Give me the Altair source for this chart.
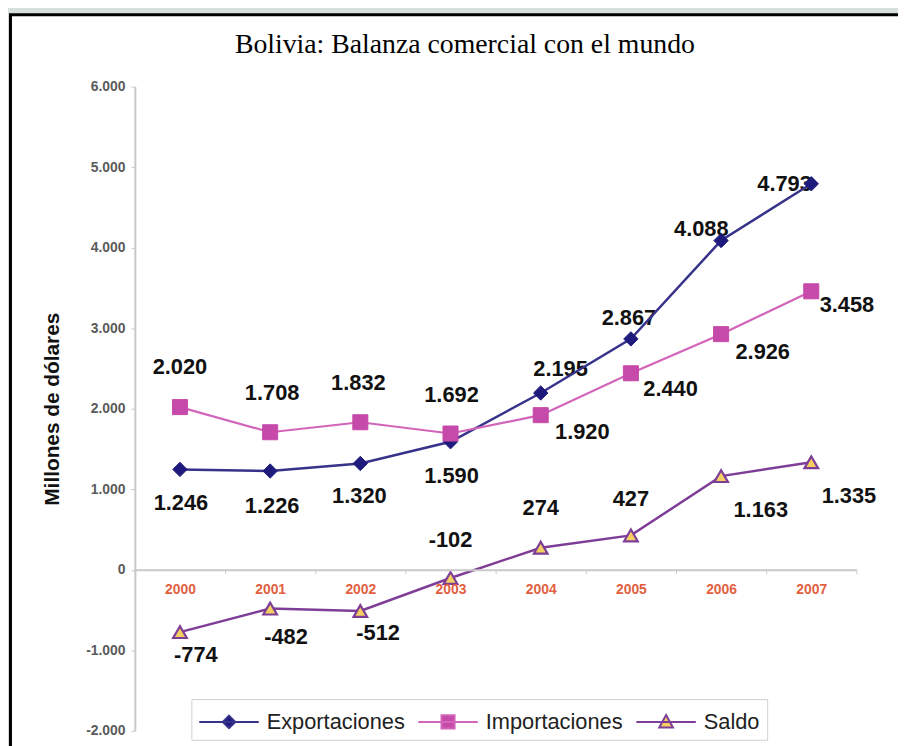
import altair as alt
import pandas as pd

# ---------------- data ----------------
years = ["2000", "2001", "2002", "2003", "2004", "2005", "2006", "2007"]
exportaciones = [1246, 1226, 1320, 1590, 2195, 2867, 4088, 4793]
importaciones = [2020, 1708, 1832, 1692, 1920, 2440, 2926, 3458]
saldo = [-774, -482, -512, -102, 274, 427, 1163, 1335]
series_names = ["Exportaciones", "Importaciones", "Saldo"]
y_ticks = [-2000, -1000, 0, 1000, 2000, 3000, 4000, 5000, 6000]
title_text = "Bolivia: Balanza comercial con el mundo"
y_title = "Millones de dólares"

rows = []
for name, vals in zip(series_names, [exportaciones, importaciones, saldo]):
    for yr, v in zip(years, vals):
        rows.append({"year": yr, "series": name, "value": v,
                     "label": f"{v:,}".replace(",", ".")})
df = pd.DataFrame(rows)

# ---------------- styles ----------------
LINE_COLOR = {"Exportaciones": "#37328a", "Importaciones": "#d264b9", "Saldo": "#7e3e98"}
MARK_FILL = {"Exportaciones": "#1f1b7c", "Importaciones": "#c64aa9", "Saldo": "#f3d061"}
MARK_STROKE = {"Exportaciones": "#1f1b7c", "Importaciones": "#c64aa9", "Saldo": "#7e3e98"}
MARK_SHAPE = {"Exportaciones": "diamond", "Importaciones": "square", "Saldo": "triangle-up"}
MARK_SIZE = {"Exportaciones": 210, "Importaciones": 230, "Saldo": 190}
LINE_WIDTH = {"Exportaciones": 2.5, "Importaciones": 2.2, "Saldo": 2.5}
# legend symbols: line with marker, drawn right of the symbol anchor
LEGEND_PATHS = [
    "M-1,0H3M1,-0.42L1.42,0L1,0.42L0.58,0Z",
    "M-1,0H3M0.56,-0.44H1.44V0.44H0.56Z",
    "M-1,0H3M1,-0.46L1.46,0.38H0.54Z",
]
# label offsets (dx, dy) in pixels, per series and year
LABEL_OFFSETS = {
    "Exportaciones": [(1, 34), (2, 35), (-1, 33), (1, 35), (20, -24), (-2, -21), (-20, -12), (-27, 0)],
    "Importaciones": [(0, -40), (2, -40), (-2, -40), (1, -39), (42, 17), (40, 16), (42, 18), (36, 14)],
    "Saldo": [(16, 23), (16, 29), (18, 22), (0, -38), (0, -40), (0, -37), (40, 34), (38, 34)],
}

W, H = 728, 650
FONT = "Liberation Sans"

x_enc = alt.X(
    "year:N",
    scale=alt.Scale(type="band", domain=years, paddingInner=0, paddingOuter=0),
    axis=alt.Axis(
        orient="bottom", offset=-162.5, title=None, labelAngle=0, zindex=1,
        labelColor="#e2603f", labelFontSize=14, labelFont=FONT, labelFontWeight="bold",
        labelPadding=9,
        domainColor="#c9c9c9", domainWidth=2, tickColor="#c9c9c9", tickSize=4,
        tickBand="extent",
    ),
)
y_enc = alt.Y(
    "value:Q",
    scale=alt.Scale(domain=[-2000, 6000], nice=False, zero=False),
    axis=alt.Axis(
        values=y_ticks, grid=False, title=y_title, zindex=1,
        labelExpr="(datum.value < 0 ? '-' : '') + replace(format(abs(datum.value), ','), ',', '.')",
        labelFontSize=14, labelFont=FONT, labelFontWeight="bold", labelColor="#5a5a5a",
        labelPadding=6,
        domainColor="#c9c9c9", domainWidth=2, tickColor="#c9c9c9", tickSize=4,
        titleFont=FONT, titleFontSize=21, titleFontWeight="bold", titleColor="#111111",
        titleX=-73,
    ),
)

one = alt.Data(values=[{"k": 1}])

frame = alt.Chart(one).mark_rect(fill="white", stroke="black", strokeWidth=3).encode(
    x=alt.value(-125.5), x2=alt.value(820), y=alt.value(-72.5), y2=alt.value(720)
)
title_mark = alt.Chart(one).mark_text(
    text=title_text, font="Liberation Serif", fontSize=28, color="#000000",
    align="center", baseline="middle",
).encode(x=alt.value(333), y=alt.value(-42))

label_layers = []
for name in series_names:
    for yr, (dx, dy) in zip(years, LABEL_OFFSETS[name]):
        label_layers.append(
            alt.Chart(df)
            .transform_filter((alt.datum.series == name) & (alt.datum.year == yr))
            .mark_text(dx=dx, dy=dy, font=FONT, fontSize=22, fontWeight="bold",
                       color="#111111", align="center", baseline="middle")
            .encode(x=x_enc, y=y_enc, text="label:N")
        )

line_layers = [
    alt.Chart(df).transform_filter(alt.datum.series == name)
    .mark_line(color=LINE_COLOR[name], strokeWidth=LINE_WIDTH[name])
    .encode(x=x_enc, y=y_enc)
    for name in series_names
]
point_layers = [
    alt.Chart(df).transform_filter(alt.datum.series == name)
    .mark_point(shape=MARK_SHAPE[name], filled=True, fill=MARK_FILL[name],
                stroke=MARK_STROKE[name], strokeWidth=2.2 if name == "Saldo" else 1,
                size=MARK_SIZE[name], opacity=1)
    .encode(x=x_enc, y=y_enc)
    for name in series_names
]

leg = alt.Legend(
    orient="none", legendX=57, legendY=618, direction="horizontal", title=None,
    strokeColor="#cfcfcf", fillColor="white", padding=7,
    labelFont=FONT, labelFontSize=22, labelColor="#222222", labelOffset=37,
    columnPadding=9, symbolSize=900, symbolStrokeWidth=2, labelLimit=300,
)
legend_layer = alt.Chart(df).transform_filter("false").mark_point(filled=True, opacity=1).encode(
    x=x_enc, y=y_enc,
    shape=alt.Shape("series:N", scale=alt.Scale(domain=series_names, range=LEGEND_PATHS), legend=leg),
    fill=alt.Fill("series:N", scale=alt.Scale(domain=series_names,
                  range=[MARK_FILL[n] for n in series_names]), legend=leg),
    stroke=alt.Stroke("series:N", scale=alt.Scale(domain=series_names,
                      range=[LINE_COLOR[n] for n in series_names]), legend=leg),
)

chart = (
    alt.layer(frame, title_mark, *label_layers, *line_layers, *point_layers, legend_layer)
    .properties(width=W, height=H, autosize="none",
                padding={"left": 128, "top": 76, "right": 42, "bottom": 12})
    .configure(background="#d6dfde")
    .configure_view(strokeWidth=0)
)

chart.save("out.html", embed_options={"renderer": "svg", "actions": False})
